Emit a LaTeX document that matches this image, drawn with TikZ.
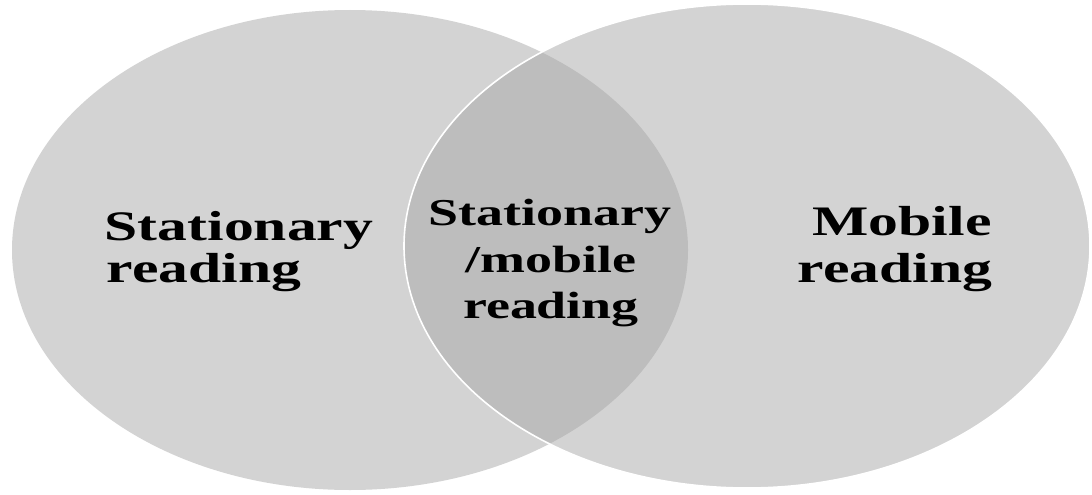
\documentclass[tikz,border=0pt]{standalone}
\usepackage{fontspec}
\setmainfont{Liberation Serif}[FakeStretch=1.42]
\definecolor{ellgray}{HTML}{D3D3D3}
\definecolor{ovlgray}{HTML}{BDBDBD}
\tikzset{
  lbl/.style={anchor=base, inner sep=0pt, text=black, font=\bfseries\fontsize{42}{42}\selectfont},
  lblmid/.style={lbl, font=\bfseries\fontsize{38}{38}\selectfont},
  leftell/.style={ellgray},
}
\begin{document}
\begin{tikzpicture}[x=1pt,y=-1pt]
\useasboundingbox (0,0) rectangle (1092,495);
% ellipses
\fill[ellgray] (350,250) ellipse [x radius=338, y radius=240];
\fill[ellgray] (747,246) ellipse [x radius=343, y radius=242];
\begin{scope}
  \clip (350,250) ellipse [x radius=338, y radius=240];
  \fill[ovlgray] (747,246) ellipse [x radius=343, y radius=242];
\end{scope}
\draw[white, line width=1.6pt] (747,246) ellipse [x radius=343, y radius=242];
% labels
\node[lbl] (l1) at (239,240) {Stationary};
\node[lbl] (l2) at (204,282) {reading};
\node[lblmid] (m1) at (550,225) {Stationary};
\node[lblmid] (m2) at (551,272) {/mobile};
\node[lblmid] (m3) at (551,318) {reading};
\node[lbl] (r1) at (902,235) {Mobile};
\node[lbl] (r2) at (895,282) {reading};
\end{tikzpicture}
\end{document}
